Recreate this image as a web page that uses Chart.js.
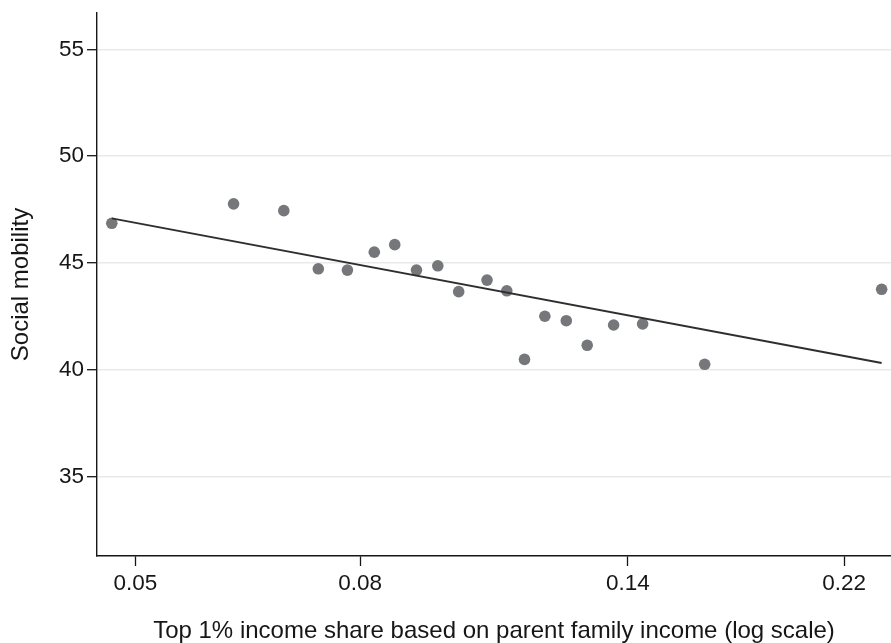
<!DOCTYPE html>
<html>
<head>
<meta charset="utf-8">
<title>Social mobility vs top 1% income share</title>
<script src="https://cdn.jsdelivr.net/npm/chart.js@4.4.1/dist/chart.umd.min.js"></script>
<style>
    html, body { margin: 0; padding: 0; background: #fff; }
    #wrap { width: 891px; height: 643px; }
</style>
</head>
<body>
<div id="wrap"><canvas id="mobilityChart"></canvas></div>
<script>
// values
const topShare = [0.0476, 0.0614, 0.0682, 0.0733, 0.0779, 0.0824, 0.0860, 0.0900, 0.0941, 0.0983,
                  0.1043, 0.1087, 0.1128, 0.1177, 0.1231, 0.1286, 0.1359, 0.1444, 0.1644, 0.2380];
const mobility = [46.86, 47.77, 47.45, 44.73, 44.67, 45.51, 45.86, 44.67, 44.87, 43.66,
                  44.20, 43.70, 40.49, 42.51, 42.30, 41.15, 42.10, 42.15, 40.26, 43.77];

// fitted line end points
const fitX = [0.0476, 0.2380];
const fitY = [47.09, 40.32];

const xTicks = [0.05, 0.08, 0.14, 0.22];
const xTickLabels = ['0.05', '0.08', '0.14', '0.22'];
const yTicks = [35, 40, 45, 50, 55];

(function() {
    'use strict';

    const ink = '#161616';
    const fontFamily = '"Liberation Sans", Arial, Helvetica, sans-serif';

    function buildChart() {
        const ctx = document.getElementById('mobilityChart');
        const points = topShare.map((x, i) => ({ x: x, y: mobility[i] }));
        const fit = fitX.map((x, i) => ({ x: x, y: fitY[i] }));

        new Chart(ctx, {
            type: 'scatter',
            data: {
                datasets: [{
                    label: 'Fit',
                    data: fit,
                    showLine: true,
                    borderColor: '#2e2e2e',
                    borderWidth: 2,
                    pointRadius: 0,
                    order: 0
                }, {
                    label: 'Areas',
                    data: points,
                    backgroundColor: '#76777b',
                    borderWidth: 0,
                    pointRadius: 5.8,
                    order: 1
                }]
            },
            options: {
                responsive: true,
                maintainAspectRatio: false,
                animation: false,
                layout: {
                    autoPadding: false,
                    padding: { top: 13, right: 0, left: 0, bottom: 0 }
                },
                plugins: {
                    legend: { display: false },
                    tooltip: { enabled: false }
                },
                scales: {
                    x: {
                        type: 'logarithmic',
                        min: 0.04615,
                        max: 0.2427,
                        afterBuildTicks: function(scale) {
                            scale.ticks = xTicks.map(v => ({ value: v }));
                        },
                        afterFit: function(scale) { scale.height = 87; },
                        border: { display: true, color: ink, width: 1.4 },
                        grid: {
                            drawOnChartArea: false,
                            drawTicks: true,
                            tickLength: 10,
                            tickColor: ink,
                            tickWidth: 1.3
                        },
                        ticks: {
                            autoSkip: false,
                            maxRotation: 0,
                            padding: 4,
                            color: ink,
                            font: { family: fontFamily, size: 22.5 },
                            callback: function(value) {
                                const idx = xTicks.indexOf(value);
                                return idx >= 0 ? xTickLabels[idx] : '';
                            }
                        },
                        title: {
                            display: true,
                            text: 'Top 1% income share based on parent family income (log scale)',
                            color: ink,
                            font: { family: fontFamily, size: 24, lineHeight: 1 },
                            padding: { top: 0, bottom: 0 }
                        }
                    },
                    y: {
                        min: 31.29,
                        max: 56.70,
                        afterBuildTicks: function(scale) {
                            scale.ticks = yTicks.map(v => ({ value: v }));
                        },
                        afterFit: function(scale) {
                            scale.width = 97;
                            // labels sit well inside, no extra room needed
                            scale.paddingTop = 0;
                            scale.paddingBottom = 0;
                        },
                        border: { display: true, color: ink, width: 1.4 },
                        grid: {
                            color: '#e9e9e9',
                            lineWidth: 1.4,
                            tickLength: 10,
                            tickColor: ink,
                            tickWidth: 1.3
                        },
                        ticks: {
                            padding: 3,
                            color: ink,
                            font: { family: fontFamily, size: 22.5 }
                        },
                        title: {
                            display: true,
                            text: 'Social mobility',
                            color: ink,
                            font: { family: fontFamily, size: 24, lineHeight: 1 },
                            padding: { top: 9, bottom: 0 }
                        }
                    }
                }
            }
        });
    }

    document.addEventListener('DOMContentLoaded', buildChart);
})();
</script>
</body>
</html>
